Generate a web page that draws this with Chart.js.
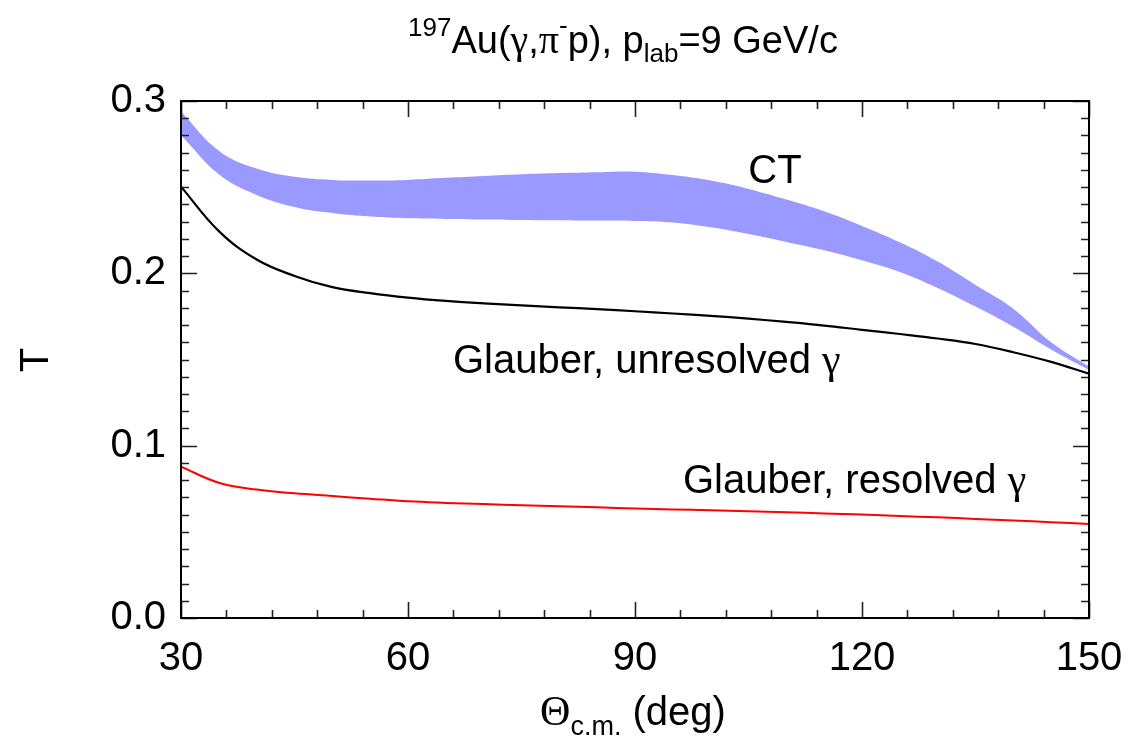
<!DOCTYPE html>
<html>
<head>
<meta charset="utf-8">
<script src="https://cdn.jsdelivr.net/npm/chart.js@4/dist/chart.umd.min.js"></script>
<style>
html, body { margin: 0; padding: 0; background: #fff; }
canvas { display: block; }
</style>
</head>
<body>
<canvas id="tchart" width="1145" height="743"></canvas>
<script>
// angles (deg) and transparency values
const theta        = [30, 35, 40, 45, 50, 55, 60, 65, 70, 75, 80, 85, 90, 95, 100, 105, 110, 115, 120, 125, 130, 135, 140, 145, 150];
const ctUpper      = [0.2938, 0.2712, 0.2608, 0.2560, 0.2542, 0.2538, 0.2542, 0.2554, 0.2565, 0.2575, 0.2582, 0.2587, 0.2590, 0.2570, 0.2538, 0.2490, 0.2428, 0.2360, 0.2275, 0.2180, 0.2068, 0.1933, 0.1795, 0.1600, 0.1459];
const ctLower      = [0.2803, 0.2575, 0.2455, 0.2385, 0.2350, 0.2330, 0.2320, 0.2316, 0.2313, 0.2310, 0.2308, 0.2306, 0.2304, 0.2295, 0.2267, 0.2228, 0.2182, 0.2134, 0.2076, 0.2008, 0.1915, 0.1807, 0.1690, 0.1558, 0.1439];
const glauberUnres = [0.2503, 0.2245, 0.2080, 0.1985, 0.1920, 0.1885, 0.1859, 0.1840, 0.1826, 0.1814, 0.1803, 0.1792, 0.1780, 0.1767, 0.1753, 0.1737, 0.1718, 0.1697, 0.1672, 0.1648, 0.1622, 0.1590, 0.1542, 0.1486, 0.1418];
const glauberRes   = [0.0878, 0.0785, 0.0745, 0.0724, 0.0708, 0.0692, 0.0677, 0.0668, 0.0661, 0.0654, 0.0648, 0.0642, 0.0636, 0.0630, 0.0625, 0.0619, 0.0613, 0.0607, 0.0600, 0.0592, 0.0584, 0.0575, 0.0566, 0.0556, 0.0546];

const xTicks = [30, 60, 90, 120, 150];
const yTicks = [0.0, 0.1, 0.2, 0.3];

const FONT = '"Liberation Sans", Arial, Helvetica, sans-serif';
const GREEK = '"Liberation Serif", "DejaVu Serif", serif';
const BIG = 40, SMALL = 27;

function pts(ys) {
    return theta.map((t, i) => ({x: t, y: ys[i]}));
}

// draws a line of text made of pieces (greek, sub/superscripts)
function setFont(c, p) {
    c.font = (p.s || BIG) + 'px ' + (p.f || FONT);
}
function drawRich(c, parts, x, y) {
    let cx = x;
    parts.forEach(p => {
        setFont(c, p);
        c.fillText(p.t, cx, y + (p.dy || 0));
        cx += c.measureText(p.t).width;
    });
}
function richWidth(c, parts) {
    let w = 0;
    parts.forEach(p => {
        setFont(c, p);
        w += c.measureText(p.t).width;
    });
    return w;
}

const frameAndText = {
    id: 'frameAndText',
    afterDraw(chart) {
        const c = chart.ctx;
        const a = chart.chartArea;
        const xs = chart.scales.x, ys = chart.scales.y;
        c.save();
        // inward ticks on all four sides
        c.strokeStyle = '#222';
        c.lineWidth = 1.6;
        c.beginPath();
        for (let v = 30; v <= 150; v += 6) {
            const px = Math.round(xs.getPixelForValue(v)) + 0.5;
            const len = (v % 30 === 0) ? 16 : 8;
            c.moveTo(px, a.bottom); c.lineTo(px, a.bottom - len);
            c.moveTo(px, a.top); c.lineTo(px, a.top + len);
        }
        for (let i = 0; i <= 30; i++) {
            const py = Math.round(ys.getPixelForValue(i / 100)) + 0.5;
            const len = (i % 10 === 0) ? 16 : 8;
            c.moveTo(a.left, py); c.lineTo(a.left + len, py);
            c.moveTo(a.right, py); c.lineTo(a.right - len, py);
        }
        c.stroke();
        // frame
        c.strokeStyle = '#000';
        c.lineWidth = 2;
        c.strokeRect(a.left, a.top, a.right - a.left, a.bottom - a.top);

        c.fillStyle = '#000';
        c.textBaseline = 'alphabetic';
        c.textAlign = 'left';

        // title
        const title = [
            {t: '197', s: 26, dy: -17},
            {t: 'Au(', s: 38},
            {t: 'γ', f: GREEK, s: 40},
            {t: ',', s: 38},
            {t: 'π', f: GREEK, s: 40},
            {t: '-', s: 26, dy: -19},
            {t: 'p), p', s: 38},
            {t: 'lab', s: 26, dy: 9},
            {t: '=9 GeV/c', s: 38}
        ];
        drawRich(c, title, 623 - richWidth(c, title) / 2, 53);

        // x axis title
        const xt = [
            {t: 'Θ', f: GREEK, s: 42},
            {t: 'c.m.', s: SMALL, dy: 10},
            {t: ' (deg)'}
        ];
        drawRich(c, xt, 633 - richWidth(c, xt) / 2, 725);

        // y axis title
        c.save();
        c.translate(48, 360);
        c.rotate(-Math.PI / 2);
        c.font = BIG + 'px ' + FONT;
        c.textAlign = 'center';
        c.fillText('T', 0, 0);
        c.restore();

        // curve labels
        c.font = BIG + 'px ' + FONT;
        c.textAlign = 'center';
        c.fillText('CT', 775, 183);
        c.textAlign = 'left';
        drawRich(c, [{t: 'Glauber, unresolved '}, {t: 'γ', f: GREEK, s: 42}], 453, 373);
        drawRich(c, [{t: 'Glauber, resolved '}, {t: 'γ', f: GREEK, s: 42}], 683, 493);
        c.restore();
    }
};

new Chart(document.getElementById('tchart'), {
    type: 'line',
    data: {
        datasets: [
            {
                label: 'CT upper',
                data: pts(ctUpper),
                borderWidth: 0,
                borderColor: 'rgba(0,0,0,0)',
                backgroundColor: 'rgb(153,153,255)',
                pointRadius: 0,
                fill: '+1',
                tension: 0.4
            },
            {
                label: 'CT lower',
                data: pts(ctLower),
                borderWidth: 0,
                borderColor: 'rgba(0,0,0,0)',
                pointRadius: 0,
                fill: false,
                tension: 0.4
            },
            {
                label: 'Glauber, unresolved',
                data: pts(glauberUnres),
                borderColor: '#000',
                borderWidth: 2.2,
                pointRadius: 0,
                fill: false,
                tension: 0.4
            },
            {
                label: 'Glauber, resolved',
                data: pts(glauberRes),
                borderColor: '#ff0000',
                borderWidth: 2,
                pointRadius: 0,
                fill: false,
                tension: 0.4
            }
        ]
    },
    options: {
        responsive: false,
        animation: false,
        layout: { padding: { left: 0, right: 56, top: 101, bottom: 0 } },
        plugins: {
            legend: { display: false },
            tooltip: { enabled: false },
            title: { display: false }
        },
        scales: {
            x: {
                type: 'linear',
                min: 30, max: 150,
                grid: { display: false, drawTicks: false },
                border: { display: false },
                afterBuildTicks: s => { s.ticks = xTicks.map(v => ({value: v})); },
                afterFit: s => { s.height = 125; },
                ticks: {
                    padding: 17,
                    color: '#000',
                    maxRotation: 0,
                    font: { family: FONT, size: BIG },
                    callback: v => String(v)
                }
            },
            y: {
                type: 'linear',
                min: 0, max: 0.3,
                grid: { display: false, drawTicks: false },
                border: { display: false },
                afterBuildTicks: s => { s.ticks = yTicks.map(v => ({value: v})); },
                afterFit: s => { s.width = 181; },
                ticks: {
                    padding: 15,
                    color: '#000',
                    font: { family: FONT, size: BIG },
                    callback: v => Number(v).toFixed(1)
                }
            }
        }
    },
    plugins: [frameAndText]
});
</script>
</body>
</html>
